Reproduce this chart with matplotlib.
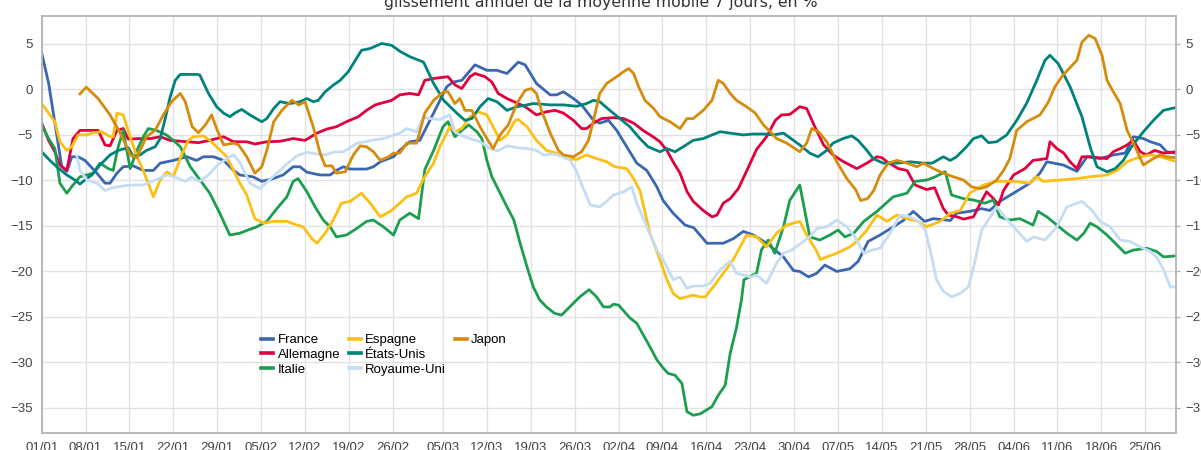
import matplotlib
matplotlib.use("Agg")
import matplotlib.pyplot as plt
from matplotlib.lines import Line2D
import pandas as pd

plt.rcParams["font.family"] = ["Liberation Sans", "DejaVu Sans"]

TITRE = "glissement annuel de la moyenne mobile 7 jours, en %"
DEBUT = "2020-01-01"
TICKS_X = ["01/01", "08/01", "15/01", "22/01", "29/01", "05/02", "12/02", "19/02", "26/02",
           "05/03", "12/03", "19/03", "26/03", "02/04", "09/04", "16/04", "23/04", "30/04",
           "07/05", "14/05", "21/05", "28/05", "04/06", "11/06", "18/06", "25/06"]
TICKS_Y = [5, 0, -5, -10, -15, -20, -25, -30, -35]

# jours depuis le 01/01 / valeurs
FR_J = [0, 1.1, 3.2, 4, 4.8, 5.8, 6.9, 8.8, 10.1, 10.9, 12, 13, 14.6, 16.2, 17.8, 18.9, 21, 23.1, 24.7, 25.8,
        27.4, 29, 30.6, 31.6, 33.7, 35.1, 36.9, 38.5, 40.1, 41.2, 42.3, 44.4, 46, 47, 48.1, 49.2, 51.8, 52.9,
        54, 56.1, 57.1, 58.7, 60.3, 62.5, 64.6, 65.6, 67, 69.1, 71, 72.6, 74.2, 76, 77.1, 78.9, 81.1, 82.1,
        83.2, 84.8, 86.1, 88, 89, 90.4, 91.7, 93.3, 94.9, 96.5, 98.1, 99.1, 100.7, 102.6, 104, 106.1, 108.7,
        110.3, 111.9, 113.5, 115.6, 118.3, 119.9, 120.9, 122.3, 123.6, 124.9, 126.8, 128.9, 130.2, 131.8,
        133.7, 135.8, 137.4, 139, 140.8, 142.2, 144.9, 145.9, 148, 149.9, 151.2, 152.8, 155, 157.6, 159.2,
        160.3, 162.9, 165.1, 166.7, 168.8, 170.9, 172.8, 174.1, 175.7, 176.8, 178.4, 179.4, 180.8]
FR = [4.0, 0.7, -8.5, -9.0, -7.4, -7.4, -7.8, -9.2, -10.3, -10.3, -9.2, -8.5, -8.4, -8.9, -8.9, -8.1, -7.8,
      -7.4, -7.8, -7.4, -7.4, -7.8, -8.9, -9.4, -9.6, -10.1, -9.8, -9.4, -8.5, -8.5, -9.1, -9.4, -9.4, -8.9,
      -8.5, -8.75, -8.75, -8.5, -7.95, -7.4, -6.7, -5.75, -5.6, -2.6, 0.3, 0.8, 1.0, 2.7, 2.1, 2.1, 1.75, 3.0,
      2.7, 0.66, -0.6, -0.6, -0.26, -1.0, -1.7, -3.4, -3.7, -3.4, -4.5, -6.3, -8.1, -8.9, -10.7, -12.2, -13.6,
      -14.9, -15.2, -16.9, -16.9, -16.4, -15.6, -16.0, -16.9, -18.4, -19.9, -20.0, -20.6, -20.2, -19.3, -20.0,
      -19.7, -18.9, -16.7, -16.0, -15.1, -14.4, -13.4, -14.5, -14.2, -14.4, -13.6, -13.4, -13.1, -13.3, -12.3,
      -11.4, -10.3, -9.2, -7.95, -8.3, -9.0, -7.4, -7.6, -7.2, -7.0, -5.2, -5.4, -5.75, -6.1, -6.85, -7.0]

DE_J = [0, 1.1, 2.1, 2.9, 4, 5, 6.1, 7.7, 9, 10.1, 10.9, 12, 13, 13.8, 15.7, 17.3, 18.9, 20.5, 23.1, 25,
        26.8, 29, 30.6, 32.7, 34, 35.9, 38, 40.1, 42, 43.9, 45.5, 47, 48.6, 50.5, 51.8, 53.2, 54.5, 55.8, 57.1,
        58.7, 60.1, 61.1, 62.5, 64.8, 65.9, 67, 68.3, 69.1, 70.7, 71.8, 72.8, 74.2, 75.8, 77.1, 78.9, 80.5,
        81.9, 83.2, 84.8, 86.1, 86.9, 88, 89.3, 91.2, 92.8, 94.4, 95.9, 97.5, 98.6, 99.7, 100.7, 101.8, 102.9,
        103.9, 105.5, 106.9, 107.7, 108.7, 109.8, 111.1, 112.4, 114, 115.6, 117, 118, 119.3, 120.9, 122,
        123.3, 124.7, 126.2, 127.9, 130, 131.6, 133.2, 134, 134.8, 136.6, 138, 139.3, 141.1, 142.4, 143.8,
        144.6, 146, 147, 148.6, 149.7, 150.7, 151.8, 152.6, 153.4, 155, 156.8, 158.1, 160.3, 160.8, 161.9,
        163, 164, 165.1, 165.9, 167.2, 169.9, 170.9, 172, 173.1, 174.1, 175.2, 176.2, 177.5, 178.9, 180.8]
DE = [-3.7, -5.6, -6.85, -8.3, -8.9, -5.4, -4.5, -4.5, -4.5, -6.1, -6.2, -4.5, -4.3, -5.45, -5.4, -5.4, -5.2,
      -5.6, -5.75, -5.85, -5.6, -5.2, -5.75, -5.75, -6.0, -5.75, -5.7, -5.4, -5.6, -4.8, -4.35, -4.1, -3.55,
      -3.0, -2.3, -1.7, -1.45, -1.2, -0.6, -0.44, -0.6, 1.0, 1.2, 1.4, 0.5, 0.1, 1.4, 1.75, 1.4, 0.8, -0.44,
      -1.0, -1.5, -1.9, -2.8, -2.45, -2.3, -2.6, -3.4, -4.3, -4.3, -3.7, -3.2, -3.1, -3.2, -3.7, -4.5, -5.2,
      -5.75, -6.7, -7.95, -9.2, -11.2, -12.3, -13.3, -14.0, -13.8, -12.5, -12.0, -10.9, -9.0, -6.6, -5.2,
      -3.4, -2.8, -2.75, -1.9, -2.1, -4.1, -6.1, -7.2, -7.95, -8.7, -8.1, -7.4, -7.5, -7.95, -8.7, -8.9,
      -10.5, -11.0, -10.8, -13.1, -13.8, -14.0, -14.25, -14.0, -12.5, -11.25, -12.0, -12.7, -11.1, -9.4,
      -8.7, -7.8, -7.6, -5.75, -6.5, -7.0, -7.95, -8.7, -7.4, -7.4, -7.6, -6.85, -6.5, -6.1, -5.6, -6.85,
      -7.2, -6.7, -7.0, -6.85]

IT_J = [0, 1.1, 2.1, 2.9, 4, 5, 6.1, 7.2, 8.2, 9.3, 10.6, 11.4, 12.2, 13, 14.1, 15.2, 16.2, 17, 18.3, 19.9,
        21, 22.1, 23.7, 25.2, 26.8, 28.4, 30, 31.6, 32.7, 34.3, 35.9, 37.5, 39.1, 40.1, 40.9, 42.3, 43.6,
        44.9, 46, 47, 48.6, 50.2, 51.8, 52.9, 54.5, 56.1, 57.1, 58.7, 60.1, 61.1, 62.5, 64, 64.8, 65.9, 67,
        68.1, 69.4, 70.2, 71, 71.8, 72.6, 74.2, 75.3, 76.3, 77.4, 78.4, 79.4, 80.5, 81.8, 82.9, 84.2, 85.8,
        87.3, 88.5, 89.6, 90.6, 91.2, 92, 93.8, 94.9, 96.7, 98.1, 99.1, 99.9, 101, 102.1, 102.9, 103.9, 105,
        106.9, 107.9, 109, 109.8, 110.8, 111.6, 112, 114, 114.8, 115.9, 116.9, 118.3, 119.3, 120.9, 122.5,
        124.1, 125.7, 127, 128.1, 129.5, 131.1, 133.2, 135.8, 138, 139.3, 141.2, 142.5, 144.1, 145.1, 147,
        148.6, 150.4, 151.8, 152.8, 154.4, 156, 158.1, 158.9, 160.3, 161.9, 163.5, 165.1, 166.2, 167.2, 168.3,
        169.9, 171.5, 172.8, 174.1, 176.2, 177.8, 178.9, 180.8]
IT = [-3.9, -5.4, -6.5, -10.3, -11.4, -10.5, -9.6, -9.4, -9.2, -8.1, -8.7, -8.9, -6.3, -4.5, -8.7, -6.7,
      -5.2, -4.3, -4.5, -5.0, -5.6, -6.3, -8.5, -9.9, -11.4, -13.6, -16.0, -15.8, -15.5, -15.1, -14.5, -13.1,
      -11.8, -10.1, -9.8, -11.25, -12.9, -14.35, -15.1, -16.2, -16.0, -15.3, -14.5, -14.35, -15.1, -16.0,
      -14.35, -13.6, -14.2, -8.8, -6.7, -4.1, -3.55, -5.2, -4.5, -3.9, -4.65, -5.4, -7.8, -9.6, -10.7, -12.9,
      -14.35, -16.9, -19.5, -21.7, -23.1, -23.9, -24.6, -24.8, -23.9, -22.8, -22.0, -22.8, -23.9, -23.9,
      -23.6, -23.7, -25.1, -25.7, -27.9, -29.7, -30.6, -31.2, -31.4, -32.3, -35.4, -35.8, -35.65, -34.85,
      -33.6, -32.5, -29.0, -26.2, -23.1, -20.9, -20.2, -17.6, -16.55, -18.0, -15.1, -12.2, -10.5, -16.2,
      -16.55, -16.0, -15.45, -16.2, -15.8, -14.5, -13.4, -11.8, -11.4, -10.1, -9.95, -9.6, -9.05, -11.6,
      -12.0, -12.15, -12.5, -12.15, -14.0, -14.35, -14.2, -14.9, -13.4, -14.0, -14.9, -15.8, -16.55, -15.8,
      -14.7, -15.1, -16.0, -17.1, -18.0, -17.65, -17.45, -17.8, -18.4, -18.3]

ES_J = [0, 1.1, 2.1, 2.9, 4, 4.8, 5.8, 7.2, 8.2, 9.6, 10.9, 11.4, 12, 13, 14.1, 15.2, 16.2, 17.8, 18.9, 20,
        21, 22.3, 23.4, 24.2, 25.8, 26.8, 28.2, 29.5, 30.6, 31.6, 32.7, 34, 35.4, 37, 39.1, 40.7, 41.7, 43.1,
        43.9, 45.2, 46.5, 47.8, 49.2, 51, 52.4, 54, 55.6, 57.1, 58.2, 59.8, 60.9, 62.5, 63.5, 65.1, 65.9, 67,
        68.3, 69.6, 71, 72, 73.1, 74.2, 75.5, 76, 77.4, 78.9, 80.5, 82.1, 83.7, 85.3, 86.9, 88.5, 90.1, 91.4,
        93.3, 94.4, 95.4, 97, 98.6, 99.7, 100.7, 101.8, 103.9, 105, 105.8, 107.1, 108.7, 110.3, 112.4, 114,
        115.6, 117.2, 118.8, 120.9, 122, 123.5, 124.2, 125.2, 126.8, 128.9, 130.2, 131.6, 133.2, 134.8, 136.4,
        138, 139.8, 141.1, 143.3, 144.9, 146.5, 148, 150.2, 152.3, 155, 157.6, 158.7, 159.7, 162.4, 165.1,
        167.2, 169.9, 171.5, 173.1, 175.2, 176.8, 178.4, 180.8]
ES = [-1.55, -2.6, -3.55, -5.75, -6.7, -6.3, -5.0, -5.0, -4.75, -4.65, -5.2, -5.2, -2.6, -2.8, -5.2, -7.4,
      -8.9, -11.8, -9.95, -9.05, -9.6, -7.2, -5.6, -5.2, -5.1, -5.6, -6.5, -7.4, -8.9, -10.3, -11.6, -14.2,
      -14.7, -14.5, -14.5, -14.9, -15.1, -16.4, -16.9, -15.8, -14.35, -12.5, -12.3, -11.4, -12.5, -14.0,
      -13.4, -12.5, -11.8, -11.4, -9.8, -8.1, -6.3, -4.1, -4.65, -4.3, -3.0, -2.45, -2.8, -4.1, -5.6, -5.0,
      -3.4, -3.3, -4.1, -5.6, -6.7, -7.0, -7.6, -7.7, -7.2, -7.6, -7.95, -8.5, -8.7, -9.8, -11.1, -15.8,
      -18.7, -20.9, -22.4, -23.0, -22.6, -22.8, -22.8, -21.7, -20.2, -18.7, -16.0, -16.2, -17.3, -15.8,
      -14.9, -14.5, -16.0, -17.65, -18.7, -18.4, -18.0, -17.3, -16.55, -15.45, -13.8, -14.5, -13.8, -14.2,
      -14.5, -15.1, -14.5, -13.6, -13.3, -11.4, -10.5, -10.1, -10.1, -10.3, -9.6, -10.1, -9.95, -9.8, -9.6,
      -9.4, -8.9, -7.95, -7.4, -7.2, -7.4, -7.9]

US_J = [0, 1.3, 2.4, 4, 5.3, 6.1, 6.9, 8, 9.3, 10.9, 12.2, 13.8, 14.6, 15.7, 16.7, 18.1, 18.9, 19.7, 20.5,
        21.3, 22.1, 24.7, 25.2, 26.6, 27.9, 29, 30, 30.8, 31.9, 33.2, 35.1, 35.9, 37, 38, 39.6, 41.2, 42.3,
        43.3, 44.1, 45.2, 46.5, 47.6, 48.9, 51, 52.4, 54.2, 55.8, 57.1, 58.7, 60.9, 62.5, 64.1, 66.2, 67.5,
        68.6, 69.9, 71.2, 72.6, 74.2, 75.8, 77.4, 78.4, 81.1, 83.2, 85.3, 86.9, 88, 89, 90.6, 92.2, 93.8,
        95.4, 96.7, 98.6, 99.7, 101, 102.3, 103.9, 105.5, 106.9, 108.2, 109.8, 111.9, 113.5, 115.1, 116.7,
        118.3, 119.9, 120.9, 122.5, 123.8, 125.2, 126.2, 127.8, 129.2, 130.2, 131.6, 132.6, 134.2, 136.4,
        138.5, 140.6, 142, 143.8, 144.9, 145.9, 147.5, 148.6, 149.9, 151, 152.3, 153.9, 155.5, 157.1, 158.7,
        160, 160.8, 162.1, 164, 165.9, 167.2, 168.3, 169.9, 171.2, 172.5, 173.8, 175.7, 177.3, 178.9, 180.8]
US = [-6.85, -7.8, -8.5, -9.4, -9.95, -10.4, -9.95, -9.4, -8.3, -7.2, -6.7, -6.4, -7.4, -7.2, -6.7, -6.3,
      -5.4, -3.2, -0.8, 1.0, 1.65, 1.65, 1.6, -0.44, -1.9, -2.6, -3.0, -2.6, -2.2, -2.8, -3.55, -3.2, -2.1,
      -1.35, -1.55, -1.35, -1.0, -1.35, -1.2, -0.26, 0.47, 1.0, 1.95, 4.3, 4.5, 5.05, 4.85, 4.2, 3.6, 3.0,
      0.66, -1.2, -2.6, -3.4, -3.2, -1.9, -1.0, -1.35, -2.3, -1.9, -1.7, -1.55, -1.7, -1.7, -1.85, -1.55,
      -1.2, -1.35, -2.3, -3.2, -4.1, -5.4, -6.3, -6.85, -6.5, -6.85, -6.3, -5.6, -5.4, -5.0, -4.65, -4.8,
      -5.0, -4.9, -4.9, -5.0, -4.8, -5.6, -6.1, -7.0, -7.4, -6.7, -5.9, -5.4, -5.1, -5.6, -6.7, -7.6, -8.1,
      -8.1, -7.95, -8.1, -8.1, -7.4, -7.8, -7.4, -6.3, -5.4, -5.1, -5.85, -5.75, -5.0, -3.4, -1.5, 1.0, 3.2,
      3.75, 2.85, 0.3, -3.0, -6.3, -8.5, -9.05, -8.7, -7.8, -6.3, -4.65, -3.4, -2.3, -2.0]

UK_J = [5.6, 6.1, 7.2, 8.8, 10.1, 11.4, 13, 14.3, 16.2, 18.3, 20, 21.5, 22.9, 23.9, 25.2, 26.6, 27.9, 29.5,
        30.6, 31.6, 33.2, 34.8, 35.9, 37.5, 39.1, 40.7, 42.3, 43.9, 45.2, 46.5, 48.1, 49.2, 50.3, 51.6, 52.9,
        54.5, 55.8, 57.1, 58.2, 59.8, 60.9, 61.7, 63.5, 65.1, 65.9, 66.7, 68.3, 69.9, 71.5, 72.8, 74.2, 75.8,
        77.4, 78.9, 80, 81.6, 83.2, 84.3, 85.3, 86.2, 87.5, 89, 90.1, 91.2, 92.8, 94.1, 94.9, 96.5, 98.1,
        99.1, 100.7, 101.8, 102.9, 103.9, 105.5, 106.6, 108.2, 109.8, 110.8, 113, 114, 115.6, 117.2, 118.3,
        119.6, 120.9, 122.5, 123.6, 125.2, 126.8, 128.4, 129.7, 131.1, 132.4, 133.7, 135.3, 136.9, 138.5,
        139.8, 140.9, 141.7, 142.7, 143.8, 145.1, 146.5, 147.8, 148.9, 149.9, 151.3, 152.3, 153.1, 155,
        157.1, 158.2, 160, 161.9, 163.5, 165.9, 167.5, 168.8, 170.4, 172, 173.6, 175.2, 176.8, 177.8, 178.9,
        180, 180.8]
UK = [-7.3, -8.9, -9.95, -10.3, -11.1, -10.8, -10.6, -10.5, -10.5, -9.9, -9.4, -9.7, -10.1, -9.65, -10.1,
      -9.4, -8.4, -7.6, -7.2, -8.0, -10.3, -10.9, -10.2, -9.2, -8.2, -7.3, -6.9, -7.1, -7.2, -6.9, -6.85,
      -6.4, -5.9, -5.75, -5.55, -5.4, -5.1, -4.8, -4.3, -4.65, -3.0, -3.2, -3.3, -2.8, -4.65, -5.0, -5.4,
      -5.75, -6.5, -6.75, -6.2, -6.4, -6.5, -6.7, -7.2, -7.1, -7.4, -7.8, -9.0, -10.6, -12.7, -12.9, -12.3,
      -11.6, -11.25, -10.7, -12.5, -15.1, -17.65, -18.7, -20.9, -20.6, -21.85, -21.6, -21.6, -21.3, -19.8,
      -18.9, -20.2, -20.6, -20.4, -21.3, -19.1, -18.0, -17.65, -17.0, -16.2, -15.3, -15.1, -14.35, -15.1,
      -16.2, -18.0, -17.65, -17.45, -15.8, -13.8, -14.0, -14.5, -15.45, -17.65, -20.9, -22.2, -22.8, -22.4,
      -21.7, -18.7, -15.45, -14.0, -12.9, -13.6, -15.1, -16.7, -16.2, -16.55, -15.1, -12.9, -12.3, -13.3,
      -14.5, -15.1, -16.55, -16.7, -17.3, -17.8, -18.4, -19.8, -21.7, -21.7]

JP_J = [6.1, 7.1, 9, 10.9, 12.2, 13.3, 14.1, 15.2, 15.7, 16.7, 18.1, 19.4, 20.7, 22.1, 22.9, 24, 25, 26.1,
        27.1, 27.9, 29, 30.6, 31.4, 32.7, 34, 35.1, 35.9, 37, 38.3, 39.9, 41, 42, 43.3, 44.4, 45.2, 46.3, 47,
        48.4, 49.7, 50.8, 51.8, 52.9, 54, 55.3, 56.1, 57.1, 58.2, 59.8, 61.1, 62.5, 64.1, 64.8, 65.9, 66.7,
        67.5, 68.6, 69.9, 71, 72, 73.1, 74.4, 75.8, 77.1, 78.1, 78.9, 79.7, 81.1, 82.4, 83.2, 84.8, 86.1,
        87.2, 88, 89, 90.1, 91.7, 92.8, 93.6, 94.4, 95.2, 96.2, 97.6, 98.6, 100.2, 101.8, 102.9, 103.9, 105.5,
        106.9, 107.9, 108.7, 109.8, 110.8, 112.4, 113.8, 115.1, 116.2, 117.2, 118.8, 120.9, 122, 122.8, 123.9,
        125.2, 126.8, 128.4, 129.8, 130.6, 131.7, 132.7, 133.7, 135, 136.4, 138, 139.6, 140.6, 142.2, 143.8,
        145.4, 147, 148.3, 149.6, 150.7, 152.3, 153.4, 154.4, 155.5, 157.1, 159.2, 160.5, 161.6, 162.9, 164,
        165.1, 165.9, 167, 168, 169.1, 169.9, 170.9, 172, 173.1, 174.1, 175.7, 177.3, 178.4, 179.4, 180.8]
JP = [-0.5, 0.25, -1.0, -2.8, -4.4, -5.9, -7.2, -7.5, -6.7, -5.2, -4.5, -2.8, -1.35, -0.44, -1.35, -4.1,
      -4.75, -3.9, -2.8, -4.3, -6.1, -5.9, -6.1, -7.4, -9.2, -8.5, -6.7, -3.55, -2.3, -1.2, -1.7, -1.35,
      -4.1, -7.0, -8.4, -8.4, -9.2, -9.05, -7.2, -6.2, -6.3, -6.85, -7.8, -7.4, -7.0, -7.0, -5.9, -5.9, -2.6,
      -1.2, -0.26, -0.26, -1.55, -1.0, -2.3, -2.3, -4.1, -5.4, -6.5, -5.0, -3.9, -1.5, -0.1, 0.1, -0.44,
      -2.3, -4.8, -6.7, -7.2, -7.4, -6.85, -5.6, -3.4, -0.44, 0.66, 1.4, 1.95, 2.3, 1.75, 0.3, -1.2, -2.1,
      -3.0, -3.55, -4.3, -3.2, -3.2, -2.3, -1.2, 1.0, 0.66, -0.44, -1.2, -1.9, -2.6, -3.9, -4.65, -5.4,
      -5.9, -6.85, -5.9, -4.3, -4.65, -5.75, -7.95, -9.8, -11.0, -12.2, -12.0, -11.1, -9.4, -8.1, -7.8,
      -8.1, -8.5, -8.1, -8.7, -9.2, -9.6, -9.95, -10.7, -10.9, -10.7, -9.95, -8.9, -7.6, -4.5, -3.55, -2.8,
      -1.45, 0.3, 1.6, 2.4, 3.2, 5.2, 5.95, 5.6, 3.75, 1.0, -0.26, -1.55, -4.5, -5.9, -8.3, -7.6, -7.2,
      -7.4, -7.5]

series = [
    ("France", FR_J, FR, "#3b66b1"),
    ("Allemagne", DE_J, DE, "#e2003c"),
    ("Italie", IT_J, IT, "#1b9e4f"),
    ("Espagne", ES_J, ES, "#fcbf12"),
    ("États-Unis", US_J, US, "#00827c"),
    ("Royaume-Uni", UK_J, UK, "#c4ddf3"),
    ("Japon", JP_J, JP, "#d68b0c"),
]

W, H = 1201, 450
fig = plt.figure(figsize=(W / 100, H / 100), dpi=100)
ax = fig.add_axes([41.7 / W, 1 - 433 / H, (1176 - 41.7) / W, (433 - 15.7) / H])

for nom, jours, vals, coul in series:
    ax.plot(jours, vals, color=coul, lw=2.0, label=nom, solid_joinstyle="round")

debut = pd.Timestamp(DEBUT)
pos_x = [(pd.to_datetime(t + "/2020", format="%d/%m/%Y") - debut).days for t in TICKS_X]
ax.set_xticks(pos_x)
ax.set_xticklabels(TICKS_X)
ax.set_xlim(0, 180.9)
ax.set_ylim(-37.75, 8.1)
ax.set_yticks(TICKS_Y)

gris = "#b4b4b4"
ax.grid(True, color="#e2e2e2", lw=1.0)
ax.set_axisbelow(True)
for s in ax.spines.values():
    s.set_color(gris)
    s.set_linewidth(1.3)
ax.tick_params(length=0, pad=6.3, labelsize=9.5, labelcolor="#444444")

ax2 = ax.twinx()
ax2.set_ylim(ax.get_ylim())
ax2.set_yticks(TICKS_Y)
ax2.tick_params(length=3, width=1, color=gris, pad=4, labelsize=9.5, labelcolor="#444444")
for s in ax2.spines.values():
    s.set_visible(False)

handles = [Line2D([], [], color=c, lw=2.6) for _, _, _, c in series]
labels = [n for n, _, _, _ in series]
vide = Line2D([], [], alpha=0)
handles += [vide, vide]
labels += ["", ""]
fig.legend(handles, labels, ncol=3, loc="upper left", bbox_to_anchor=(261 / W, 1 - 334 / H),
           frameon=False, fontsize=9.5, handlelength=0.9, handletextpad=0.35,
           columnspacing=0.65, labelspacing=0.2, borderpad=0, borderaxespad=0)

fig.text(0.5, 1 - 7.5 / H, TITRE, ha="center", va="baseline", fontsize=11.3,
         color="#333333", family="DejaVu Sans")

fig.savefig("out.png", dpi=100)
